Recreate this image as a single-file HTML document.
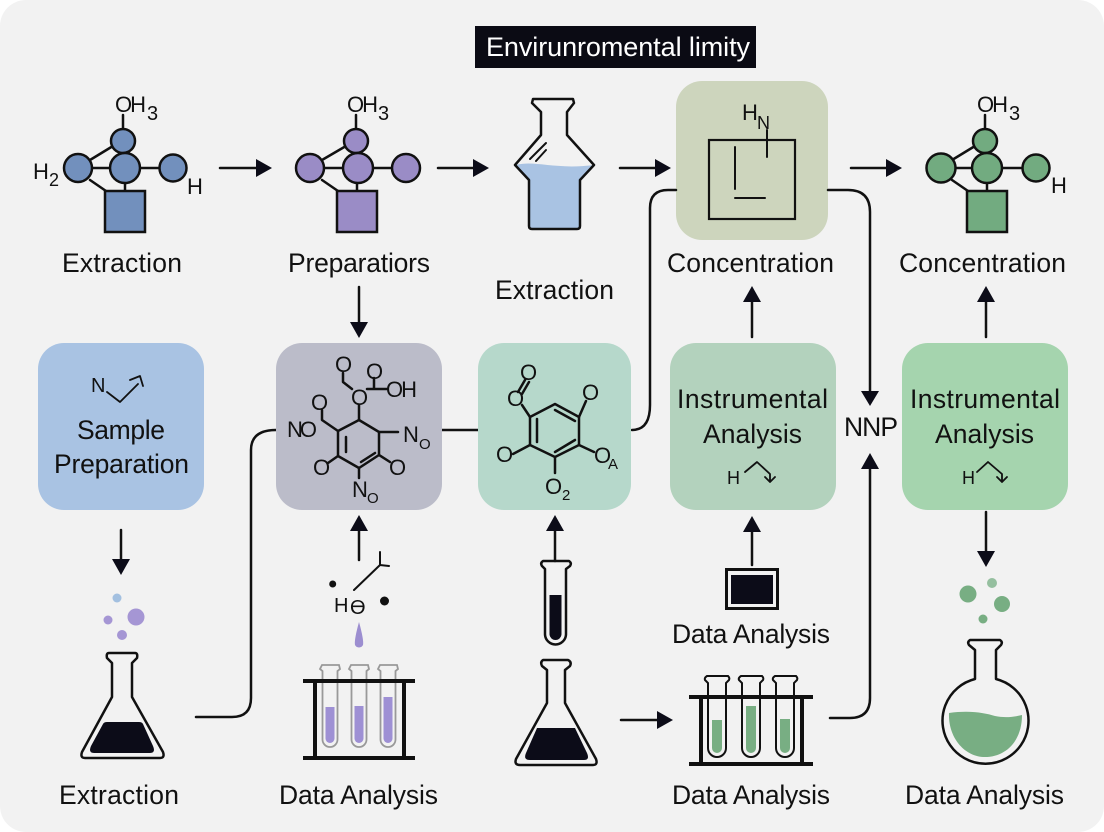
<!DOCTYPE html>
<html><head><meta charset="utf-8"><style>
html,body{margin:0;padding:0;background:#fff;width:1104px;height:832px;overflow:hidden}
svg{display:block}
text{font-family:"Liberation Sans",sans-serif;fill:#111}
.l{font-size:26.500px}
.c{font-size:22px}
.s{font-size:15px}
.k{fill:none;stroke:#111;stroke-width:2.500;stroke-linejoin:round;stroke-linecap:round}
.t{fill:none;stroke:#111;stroke-width:2}
.b{stroke:#111;stroke-width:2.500}
.h{fill:#0c0c18;stroke:none}
</style></head><body>
<svg width="1104" height="832" viewBox="0 0 1104 832" xmlns="http://www.w3.org/2000/svg">
<rect width="1104" height="832" rx="26" fill="#f2f2f2"/>
<rect x="475" y="26" width="281" height="42" fill="#0b0b14"/>
<text x="486" y="56" style="fill:#fff;font-size:27px" textLength="264">Envirunromental limity</text>

<!-- molecule blue -->
<g class="k"><path d="M123 115V130M90 160L113 146M90 168H112M90 180L106 191M125 182V192M139 168H160"/></g>
<g class="b" fill="#7290bd"><circle cx="123" cy="141" r="12"/><circle cx="125" cy="168" r="15"/><circle cx="78" cy="168" r="14"/><circle cx="173" cy="168" r="13.500"/><rect x="105" y="191" width="40" height="41"/></g>
<text x="115" y="112" class="c" textLength="31">OH</text><text x="147" y="120" style="font-size:20px">3</text>
<text x="33" y="179" class="c">H</text><text x="49" y="186" style="font-size:18px">2</text>
<text x="187" y="194" class="c">H</text>

<!-- molecule purple -->
<g class="k"><path d="M356 115V130M322 160L346 146M322 168H344M322 180L338 191M357 182V192M372 168H393"/></g>
<g class="b" fill="#9a8cc6"><circle cx="356" cy="141" r="12"/><circle cx="358" cy="168" r="15"/><circle cx="310" cy="168" r="14"/><circle cx="406" cy="168" r="14"/><rect x="337" y="191" width="40" height="41"/></g>
<text x="347" y="112" class="c" textLength="31">OH</text><text x="378" y="120" style="font-size:20px">3</text>

<!-- beaker -->
<path d="M516 165C535 160 555 170 594 165L579 180V226Q579 229 576 229H532Q529 229 529 226V180Z" fill="#a9c3e3"/>
<path class="k" d="M533 99H573L574 103L567 112V135L594 165L580 180V226Q580 229 577 229H532Q529 229 529 226V180L515 165L541 135V112L532 103Z"/>
<path class="k" style="stroke-width:2" d="M530 159L546 143M536 161L546 150"/>

<!-- concentration box -->
<rect x="676" y="81" width="152" height="159" rx="26" fill="#cdd5bd"/>
<rect x="709" y="140" width="86" height="79" class="t" style="stroke-width:2.200"/>
<path class="k" style="stroke-width:2" d="M767 130V157M735 147V189M735 198H765"/>
<text x="742" y="120" class="c">H</text><text x="757" y="129" style="font-size:18px">N</text>

<!-- molecule green -->
<g class="k"><path d="M985 115V130M952 160L975 146M952 168H975M952 180L968 191M987 182V192M1002 168H1023"/></g>
<g class="b" fill="#72ab80"><circle cx="985" cy="141" r="12"/><circle cx="987" cy="168" r="15"/><circle cx="941" cy="168" r="14.500"/><circle cx="1036" cy="168" r="13.500"/><rect x="967" y="191" width="40" height="41"/></g>
<text x="977" y="112" class="c" textLength="31">OH</text><text x="1009" y="120" style="font-size:20px">3</text>
<text x="1051" y="193" class="c">H</text>

<!-- connectors -->
<g class="k">
<path d="M676 190H668Q650 190 650 208V405Q650 430 632 430"/>
<path d="M828 190H848Q870 190 870 212V394"/>
<path d="M830 718H850Q870 718 870 698V466"/>
<path d="M196 717H232Q251 717 251 698V450Q251 430 276 430"/>
<path d="M442 430H478"/>
<path d="M220 168H258M438 168H475M620 168H657M851 168H888"/>
<path d="M359 287V324M121 530V562M986 512V553"/>
<path d="M359 560V530M555 561V530M752 337V302M752 565V530M986 337V302"/>
<path d="M621 720H659"/>
</g>
<g class="h">
<path d="M272 168L256 159V177ZM489 168L473 159V177ZM671 168L655 159V177ZM902 168L886 159V177Z"/>
<path d="M359 338L350 322H368ZM121 575L112 559H130ZM986 567L977 551H995ZM870 406L861 391H879Z"/>
<path d="M359 515L350 531H368ZM555 515L546 531H564ZM752 516L743 532H761ZM752 286L743 302H761ZM986 286L977 302H995ZM870 453L861 469H879Z"/>
<path d="M673 720L657 711V729Z"/>
</g>

<!-- row labels -->
<text x="62" y="272" class="l" textLength="120">Extraction</text>
<text x="288" y="272" class="l" textLength="142">Preparatiors</text>
<text x="495" y="299" class="l" textLength="119">Extraction</text>
<text x="667" y="272" class="l" textLength="167">Concentration</text>
<text x="899" y="272" class="l" textLength="167">Concentration</text>

<!-- sample box -->
<rect x="38" y="343" width="166" height="167" rx="26" fill="#a9c3e3"/>
<text x="91" y="392" style="font-size:20px">N</text>
<path class="k" style="stroke-width:1.800" d="M107 392L120 402L138 384M130 380L140 376L143 386"/>
<text x="77" y="439" class="l" textLength="88">Sample</text>
<text x="54" y="473" class="l" textLength="135">Preparation</text>

<!-- grey box -->
<rect x="276" y="343" width="166" height="167" rx="26" fill="#bbbcc9"/>
<g class="k">
<path d="M359 420L379 432V455L359 468L338 456V431Z"/>
<path d="M346 437V452M361 462L375 453M359 405V420M352 389L343 382V373M367 389H387M374 378V389M338 431L322 420V410M379 432H398M338 456L328 463M379 455L390 462M359 468V478"/>
</g>
<text x="335" y="372" class="c">O</text><text x="366" y="379" class="c">O</text><text x="351" y="405" class="c">O</text><text x="311" y="410" class="c">O</text>
<text x="386" y="397" class="c" textLength="31">OH</text>
<text x="287" y="437" class="c" textLength="30">NO</text>
<text x="403" y="442" class="c">N</text><text x="419" y="449" class="s">O</text>
<text x="313" y="475" class="c">O</text><text x="389" y="475" class="c">O</text>
<text x="352" y="497" class="c">N</text><text x="367" y="503" class="s">O</text>

<!-- teal box -->
<rect x="478" y="343" width="153" height="167" rx="26" fill="#b6d8cb"/>
<g class="k">
<path d="M555 404L579 417V445L555 457L530 445V417Z"/>
<path d="M537 419V442M555 410L575 421M555 452L575 440M530 417L522 405M518 392L525 380M522 394L529 382M579 417L586 401M530 445L513 454M579 445L594 452M555 457V473"/>
</g>
<text x="507" y="406" class="c">O</text><text x="520" y="380" class="c">O</text><text x="582" y="400" class="c">O</text><text x="496" y="462" class="c">O</text><text x="594" y="463" class="c">O</text><text x="608" y="469" class="s">A</text>
<text x="545" y="494" class="c">O</text><text x="562" y="500" class="s">2</text>

<!-- instrumental -->
<rect x="670" y="343" width="166" height="167" rx="26" fill="#b3d2bd"/>
<text x="677" y="408" class="l" textLength="151">Instrumental</text>
<text x="703" y="443" class="l" textLength="99">Analysis</text>
<text x="727" y="484" style="font-size:18px">H</text>
<path class="k" style="stroke-width:1.800" d="M745 472L757 462L770 474V481M765 477L770 482L775 477"/>

<rect x="902" y="343" width="166" height="167" rx="26" fill="#a5d4ae"/>
<text x="910" y="408" class="l" textLength="150">Instrumental</text>
<text x="935" y="443" class="l" textLength="99">Analysis</text>
<text x="962" y="484" style="font-size:18px">H</text>
<path class="k" style="stroke-width:1.800" d="M977 472L988 462L1002 474V481M997 477L1002 482L1007 477"/>

<text x="844" y="436" class="l" textLength="54">NNP</text>

<!-- bubbles left -->
<circle cx="117" cy="598" r="4.500" fill="#a3c0e0"/><circle cx="136" cy="617" r="8.500" fill="#a596d4"/><circle cx="108" cy="620" r="4.500" fill="#a596d4"/><circle cx="122" cy="635" r="5" fill="#a596d4"/>

<!-- flask 1 -->
<path class="k" d="M109 653H135Q138 653 137 658L132 663V697L163 752Q165 758 160 758H85Q80 758 82 752L112 697V663L107 658Q106 653 109 653Z"/>
<path d="M107 722H139Q142 722 143 724L153 746Q156 753 150 753H94Q88 753 91 746L103 724Q104 722 107 722Z" fill="#0c0c18"/>

<!-- H mark -->
<circle cx="332.700" cy="584" r="3.500" fill="#111"/><circle cx="384.500" cy="601" r="4.500" fill="#111"/>
<path class="k" style="stroke-width:2" d="M354 590L380 565M380 552V565L389 566"/>
<text x="334" y="612" style="font-size:20px">H</text>
<text x="350" y="614" style="font-size:20px">Ө</text>
<path d="M359 622Q364 640 363 645A4.500 4.500 0 0 1 355 645Q354 640 359 622Z" fill="#9c8ed0"/>

<!-- rack 1 -->
<g fill="none" stroke="#999" stroke-width="1.800">
<path d="M322 665H339L340 669L337.500 671V739.500A7.500 7.500 0 0 1 322.500 739.500V671L320 669Z"/>
<path d="M351 665H368L369 669L366.500 671V739.500A7.500 7.500 0 0 1 351.500 739.500V671L349 669Z"/>
<path d="M380 665H397L398 669L395.500 671V739.500A7.500 7.500 0 0 1 380.500 739.500V671L378 669Z"/>
</g>
<g fill="#9e90d4">
<path d="M325.500 707H334.500V738.500A4.500 4.500 0 0 1 325.500 738.500Z"/>
<path d="M354.500 706H363.500V738.500A4.500 4.500 0 0 1 354.500 738.500Z"/>
<path d="M383.500 697H392.500V738.500A4.500 4.500 0 0 1 383.500 738.500Z"/>
</g>
<g stroke="#111" fill="none"><path stroke-width="4" d="M303 681H415M303 758H415M315 681V758M404 681V758"/></g>
<text x="59" y="804" class="l" textLength="120">Extraction</text>
<text x="279" y="804" class="l" textLength="159">Data Analysis</text>

<!-- tube -->
<path class="k" d="M543 561H569Q572 563 570 566L566 569V634A10.500 10.500 0 0 1 545 634V569L542 566Q540 563 543 561Z"/>
<path d="M549.500 595H561.500V634A6 6 0 0 1 549.500 634Z" fill="#0c0c18"/>

<!-- flask 2 -->
<path class="k" d="M543 660H568Q572 662 570 666L565 670V703L596 759Q598 765 593 765H520Q514 765 516 759L547 703V670L542 666Q540 662 543 660Z"/>
<path d="M537 728H575L587 753Q590 760 584 760H530Q523 760 526 753Z" fill="#0c0c18"/>

<!-- monitor -->
<rect x="726.500" y="569.500" width="51" height="39" fill="none" stroke="#111" stroke-width="3"/>
<rect x="731" y="575" width="42" height="29" fill="#0c0c18"/>
<text x="672" y="643" class="l" textLength="158">Data Analysis</text>

<!-- rack 2 -->
<g class="t">
<path d="M707 676H728Q730 678 729 680L726 683V748A9 9 0 0 1 708 748V683L705 680Q704 678 707 676Z"/>
<path d="M741 676H762Q764 678 763 680L760 683V748A9 9 0 0 1 742 748V683L739 680Q738 678 741 676Z"/>
<path d="M775 676H796Q798 678 797 680L794 683V748A9 9 0 0 1 776 748V683L773 680Q772 678 775 676Z"/>
</g>
<g fill="#78ae83">
<path d="M712 720H722V748A5 5 0 0 1 712 748Z"/>
<path d="M746 706H756V748A5 5 0 0 1 746 748Z"/>
<path d="M780 719H790V748A5 5 0 0 1 780 748Z"/>
</g>
<path fill="none" stroke="#111" stroke-width="4" d="M689 697H813M689 764H813M701 697V764M802 697V764"/>
<text x="672" y="804" class="l" textLength="158">Data Analysis</text>

<!-- round flask -->
<circle cx="968" cy="594" r="8.500" fill="#78ae83"/><circle cx="992" cy="583" r="5" fill="#95bf9f"/><circle cx="1002" cy="604" r="8" fill="#78ae83"/><circle cx="983" cy="619" r="4.500" fill="#78ae83"/>
<path class="k" d="M970 640H1000Q1003 642 1001 645L996 650V679A43 43 0 1 1 975 679V650L969 645Q967 642 970 640Z"/>
<path d="M949 713C970 710 985 713 995 716C1005 718 1014 717 1022 715C1022 742 1005 757 985 757C965 757 948 738 949 713Z" fill="#78ae83"/>
<text x="905" y="804" class="l" textLength="159">Data Analysis</text>
</svg>
</body></html>
